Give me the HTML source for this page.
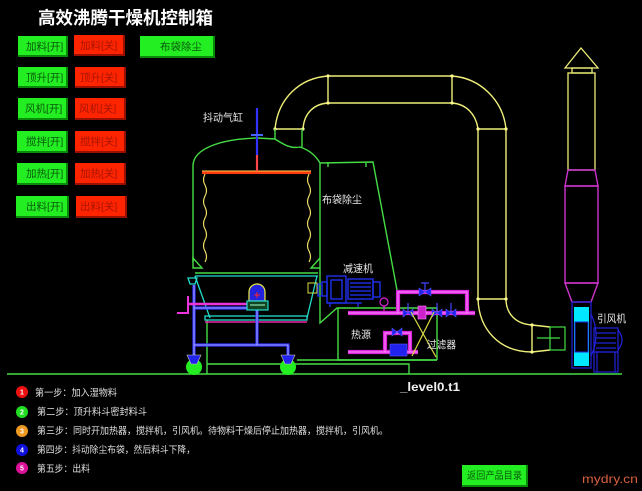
<!DOCTYPE html>
<html><head><meta charset="utf-8"><style>
html,body{margin:0;padding:0;background:#000;}
svg{display:block;}
text{font-family:"Liberation Sans","Noto Sans CJK SC",sans-serif;}
</style></head><body>
<svg width="642" height="491" viewBox="0 0 642 491" xmlns="http://www.w3.org/2000/svg">
<rect width="642" height="491" fill="#000"/>
<!-- title -->
<text x="38" y="24" font-size="17.5" font-weight="bold" fill="#fff" textLength="175" lengthAdjust="spacingAndGlyphs">高效沸腾干燥机控制箱</text>

<!-- buttons -->
<g font-size="10.5">
<g>
<rect x="18" y="36" width="50" height="21" fill="#0a8a0a"/><rect x="18" y="36" width="48" height="19" fill="#22ee22"/>
<text x="26" y="50" fill="#0b5a0b">加料[开]</text>
<rect x="74" y="35" width="51" height="21" fill="#9a1000"/><rect x="74" y="35" width="49" height="19" fill="#ff2400"/>
<text x="80" y="49" fill="#a81400">加料[关]</text>
<rect x="140" y="36" width="75" height="22" fill="#0a8a0a"/><rect x="140" y="36" width="73" height="20" fill="#22ee22"/>
<text x="160" y="50" fill="#0b5a0b">布袋除尘</text>
</g>
<g>
<rect x="18" y="67" width="50" height="21" fill="#0a8a0a"/><rect x="18" y="67" width="48" height="19" fill="#22ee22"/>
<text x="26" y="81" fill="#0b5a0b">顶升[开]</text>
<rect x="75" y="67" width="51" height="21" fill="#9a1000"/><rect x="75" y="67" width="49" height="19" fill="#ff2400"/>
<text x="80" y="81" fill="#a81400">顶升[关]</text>
</g>
<g>
<rect x="18" y="98" width="50" height="22" fill="#0a8a0a"/><rect x="18" y="98" width="48" height="20" fill="#22ee22"/>
<text x="25" y="112" fill="#0b5a0b">风机[开]</text>
<rect x="75" y="98" width="51" height="22" fill="#9a1000"/><rect x="75" y="98" width="49" height="20" fill="#ff2400"/>
<text x="79" y="112" fill="#a81400">风机[关]</text>
</g>
<g>
<rect x="17" y="131" width="51" height="22" fill="#0a8a0a"/><rect x="17" y="131" width="49" height="20" fill="#22ee22"/>
<text x="26" y="145" fill="#0b5a0b">搅拌[开]</text>
<rect x="75" y="131" width="51" height="22" fill="#9a1000"/><rect x="75" y="131" width="49" height="20" fill="#ff2400"/>
<text x="80" y="145" fill="#a81400">搅拌[关]</text>
</g>
<g>
<rect x="17" y="163" width="51" height="22" fill="#0a8a0a"/><rect x="17" y="163" width="49" height="20" fill="#22ee22"/>
<text x="26" y="177" fill="#0b5a0b">加热[开]</text>
<rect x="75" y="163" width="51" height="22" fill="#9a1000"/><rect x="75" y="163" width="49" height="20" fill="#ff2400"/>
<text x="80" y="177" fill="#a81400">加热[关]</text>
</g>
<g>
<rect x="16" y="196" width="53" height="22" fill="#0a8a0a"/><rect x="16" y="196" width="51" height="20" fill="#22ee22"/>
<text x="26" y="210" fill="#0b5a0b">出料[开]</text>
<rect x="76" y="196" width="51" height="22" fill="#9a1000"/><rect x="76" y="196" width="49" height="20" fill="#ff2400"/>
<text x="80" y="210" fill="#a81400">出料[关]</text>
</g>
</g>

<!-- yellow duct top -->
<g fill="none" stroke="#eeee78" stroke-width="1.4">
<path d="M275,129 C278,98 300,78 328,76 L452,76 C480,78 503,100 506,129"/>
<path d="M303,129 C304,113 314,104 328,103 L452,103 C466,104 476,114 478,129"/>
<path d="M328,76 L328,103 M452,76 L452,103"/>
<path d="M275,129 L303,129 M478,129 L506,129"/>
<path d="M478,129 L478,299 M506,129 L506,299"/>
<path d="M478,299 L506,299"/>
<path d="M478,299 C479,330 500,352 532,352"/>
<path d="M506,299 C506,314 516,324 532,325"/>
<path d="M532,325 L532,352 M532,325 L550,327 M532,352 L550,350"/>
</g>
<g fill="#ffff90">
<circle cx="328" cy="76" r="1.6"/><circle cx="452" cy="76" r="1.6"/><circle cx="328" cy="103" r="1.6"/><circle cx="452" cy="103" r="1.6"/>
<circle cx="275" cy="129" r="1.6"/><circle cx="303" cy="129" r="1.6"/><circle cx="478" cy="129" r="1.6"/><circle cx="506" cy="129" r="1.6"/>
<circle cx="478" cy="299" r="1.6"/><circle cx="506" cy="299" r="1.6"/><circle cx="532" cy="325" r="1.6"/><circle cx="532" cy="352" r="1.6"/>
</g>
<!-- green elbow joint near fan -->
<g fill="none" stroke="#44dd44" stroke-width="1.2">
<rect x="550" y="327" width="15" height="23"/>
<path d="M537,338 L560,338"/>
</g>

<!-- stack -->
<g fill="none" stroke="#eeee78" stroke-width="1.3">
<polygon points="565,68 581,48 598,68"/>
<rect x="572" y="68" width="20" height="5"/>
<rect x="568" y="73" width="27" height="97"/>
</g>
<g fill="none" stroke="#cc33cc" stroke-width="1.4">
<polygon points="568,170 595,170 598,186 565,186"/>
<rect x="565" y="186" width="33" height="97"/>
<polygon points="565,283 598,283 591,302 572,302"/>
</g>
<!-- fan -->
<g fill="none" stroke="#2222dd" stroke-width="1.2">
<rect x="572" y="302" width="19" height="66"/>
<path d="M591,314 Q601,335 591,356"/>
<rect x="594" y="328" width="24" height="24"/>
<path d="M596,333 L616,333 M596,338 L616,338 M596,343 L616,343 M596,348 L616,348"/>
<path d="M618,330 Q626,340 618,350"/>
<rect x="594" y="352" width="24" height="20"/>
<path d="M597,352 L597,372 M615,352 L615,372"/>
</g>
<rect x="574" y="307" width="15" height="59" fill="#00e8ff"/>
<rect x="575" y="322" width="13" height="30" fill="#000" stroke="#2222dd" stroke-width="1"/>

<!-- tank -->
<g fill="none" stroke="#44dd44" stroke-width="1.4">
<path d="M193,262 L193,166 C193,148 222,139 257,138 L275,139 C283,144 290,149 300,147 C309,150 316,156 320,163 L320,323 L337,308 L437,308 L437,360"/>
<path d="M275,129 L275,139 M302,129 L302,147"/>
<path d="M320,163 L373,162 L397,290 L397,308"/>
<path d="M328,162 L328,167 M366,162 L366,167"/>
<path d="M338,308 L338,360 L437,360"/>
<path d="M193,258 L202,268 L193,268 Z M320,258 L311,268 L320,268"/>
<path d="M195,273 L318,273"/>
<path d="M207,320 L207,374 M207,364 L409,364 L409,374 M297,360 L437,360"/>
<path d="M7,374 L622,374"/>
</g>
<!-- bag filter -->
<rect x="202" y="171" width="109" height="3" fill="#ff3a10"/>
<path d="M202,171 L311,171" stroke="#ffcc44" stroke-width="1"/>
<g fill="none" stroke="#eedd66" stroke-width="1.2">
<path d="M205,174 q-3,6 0,11 q3,6 0,11 q-3,6 0,11 q3,6 0,11 q-3,6 0,11 q3,6 0,11 q-3,6 0,11 q3,6 0,11"/>
<path d="M309,174 q-3,6 0,11 q3,6 0,11 q-3,6 0,11 q3,6 0,11 q-3,6 0,11 q3,6 0,11 q-3,6 0,11 q3,6 0,11"/>
</g>
<path d="M257,108 L257,155" stroke="#3333ff" stroke-width="2.2"/>
<path d="M251,135 L263,135" stroke="#4466ff" stroke-width="2"/>
<path d="M257,155 L257,171" stroke="#ff2222" stroke-width="2.2"/>
<path d="M257,155 L257,171" stroke="#ff9999" stroke-width="0.6"/>

<!-- lower machine -->
<g fill="none" stroke="#22ddcc" stroke-width="1.3">
<path d="M195,276 L318,276"/>
<path d="M195,276 L210,318 M317,276 L307,318"/>
<rect x="205" y="316" width="102" height="4"/>
<path d="M188,278 L197,278 L195,284 L190,284 Z"/>
</g>
<path d="M205,322 L307,322" stroke="#ee22aa" stroke-width="1.4"/>
<rect x="308" y="283" width="9" height="10" fill="none" stroke="#dddd44" stroke-width="1"/>
<!-- blue frame -->
<g fill="none" stroke="#3333ff" stroke-width="3.2">
<path d="M194,285 L194,357 M194,345 L288,345 L288,357 M257,305 L257,345 M194,308 L247,308"/>
</g>
<g fill="none" stroke="#c8c8ff" stroke-width="0.8">
<path d="M194,285 L194,357 M194,345 L288,345 L288,357 M257,305 L257,345 M194,308 L247,308"/>
</g>
<path d="M188,304 L247,304" stroke="#ee33dd" stroke-width="2.4"/>
<path d="M188,296 L188,313 L177,313" fill="none" stroke="#ee33dd" stroke-width="2"/>
<circle cx="194" cy="367" r="8" fill="#22ee22"/>
<circle cx="288" cy="367" r="8" fill="#22ee22"/>
<polygon points="187,355 201,355 197,364 191,364" fill="#2222ee" stroke="#ccccaa" stroke-width="0.6"/>
<polygon points="281,355 295,355 291,364 285,364" fill="#2222ee" stroke="#ccccaa" stroke-width="0.6"/>
<path d="M249,301 L249,292 A8,8 0 0 1 265,292 L265,301 Z" fill="#2222dd" stroke="#eeee44" stroke-width="1.2"/>
<path d="M257,292 L257,298 M254,295 L260,295" stroke="#ff2222" stroke-width="1"/>
<rect x="247" y="301" width="21" height="9" fill="#114422" stroke="#22ddcc" stroke-width="1.2"/>
<path d="M250,305 L265,305" stroke="#aaffcc" stroke-width="1"/>

<!-- reducer -->
<g fill="none" stroke="#2233ff" stroke-width="1.3">
<path d="M321,284 L318,284 L318,296 L321,296"/>
<rect x="322" y="282" width="5" height="14"/>
<rect x="327" y="276" width="19" height="27"/>
<rect x="331" y="280" width="11" height="19"/>
<rect x="348" y="279" width="25" height="20"/>
<path d="M350,283 L371,283 M350,287 L371,287 M350,291 L371,291 M350,295 L371,295"/>
<rect x="373" y="282" width="7" height="15"/>
<path d="M327,303 L362,303 M330,303 L330,307 M358,303 L358,307"/>
</g>

<!-- pipes -->
<g fill="none" stroke="#dd22dd" stroke-width="4.2">
<path d="M348,313 L475,313"/>
<path d="M398,313 L398,292 L467,292 L467,313"/>
<path d="M348,352 L418,352"/>
<path d="M385,352 L385,333 L410,333 L410,352"/>
</g>
<g fill="none" stroke="#ff99ff" stroke-width="0.9">
<path d="M348,313 L475,313"/>
<path d="M398,313 L398,292 L467,292 L467,313"/>
<path d="M348,352 L418,352"/>
<path d="M385,352 L385,333 L410,333 L410,352"/>
</g>
<circle cx="384" cy="302" r="4" fill="#000" stroke="#dd22dd" stroke-width="1.2"/>
<path d="M384,306 L384,311" stroke="#dd22dd" stroke-width="1.2"/>
<g fill="#2222ee" stroke="#5555ff" stroke-width="0.6">
<polygon points="419,288 431,296 431,288 419,296"/>
<path d="M425,283 L425,292 M421,283 L429,283" stroke="#4444ff" stroke-width="1.2"/>
<polygon points="403,309 413,317 413,309 403,317"/>
<polygon points="432,309 442,317 442,309 432,317"/>
<polygon points="446,309 456,317 456,309 446,317"/>
<path d="M408,303 L408,313 M437,303 L437,313 M451,303 L451,313" stroke="#4444ff" stroke-width="1.2"/>
<polygon points="392,328 402,336 402,328 392,336"/>
<rect x="390" y="344" width="17" height="12"/>
</g>
<rect x="418" y="306" width="8" height="13" fill="#cc22cc" stroke="#ff88ff" stroke-width="0.6"/>
<path d="M411,312 L436,357 M434,312 L412,356" stroke="#dddd44" stroke-width="1.2"/>

<!-- labels -->
<g font-size="10.5" fill="#e6e6e6">
<text x="203" y="121" textLength="40" lengthAdjust="spacingAndGlyphs">抖动气缸</text>
<text x="322" y="203" textLength="40" lengthAdjust="spacingAndGlyphs">布袋除尘</text>
<text x="343" y="272" textLength="30" lengthAdjust="spacingAndGlyphs">减速机</text>
<text x="351" y="338" textLength="20" lengthAdjust="spacingAndGlyphs">热源</text>
<text x="427" y="348" textLength="29" lengthAdjust="spacingAndGlyphs">过滤器</text>
<text x="597" y="322" textLength="29" lengthAdjust="spacingAndGlyphs">引风机</text>
</g>
<text x="400" y="391" font-size="11.5" font-weight="bold" fill="#f0f0f0" textLength="60" lengthAdjust="spacingAndGlyphs">_level0.t1</text>

<!-- steps -->
<g>
<circle cx="22" cy="392" r="6" fill="#ee1111"/>
<circle cx="22" cy="412" r="6" fill="#22dd22"/>
<circle cx="22" cy="431" r="6" fill="#ee9922"/>
<circle cx="22" cy="450" r="6" fill="#1111dd"/>
<circle cx="22" cy="468" r="6" fill="#dd1199"/>
<g font-size="7" font-weight="bold" fill="#fff" text-anchor="middle">
<text x="22" y="394.5">1</text><text x="22" y="414.5">2</text><text x="22" y="433.5">3</text><text x="22" y="452.5">4</text><text x="22" y="470.5">5</text>
</g>
</g>
<g font-size="9.5" fill="#e0e0e0">
<text x="35" y="396" textLength="82" lengthAdjust="spacingAndGlyphs">第一步：加入湿物料</text>
<text x="37" y="415" textLength="110" lengthAdjust="spacingAndGlyphs">第二步：顶升料斗密封料斗</text>
<text x="37" y="434" textLength="351" lengthAdjust="spacingAndGlyphs">第三步：同时开加热器，搅拌机，引风机。待物料干燥后停止加热器，搅拌机，引风机。</text>
<text x="37" y="453" textLength="158" lengthAdjust="spacingAndGlyphs">第四步：抖动除尘布袋，然后料斗下降，</text>
<text x="37" y="472" textLength="53" lengthAdjust="spacingAndGlyphs">第五步：出料</text>
</g>

<!-- return button -->
<rect x="462" y="465" width="66" height="22" fill="#0a8a0a"/>
<rect x="462" y="465" width="64" height="20" fill="#22ee22"/>
<text x="467" y="479" font-size="10" fill="#0b5a0b" textLength="55" lengthAdjust="spacingAndGlyphs">返回产品目录</text>
<text x="582" y="483" font-family="Liberation Mono, monospace" font-size="12" fill="#d8603f" textLength="56" lengthAdjust="spacingAndGlyphs">mydry.cn</text>
</svg>
</body></html>
